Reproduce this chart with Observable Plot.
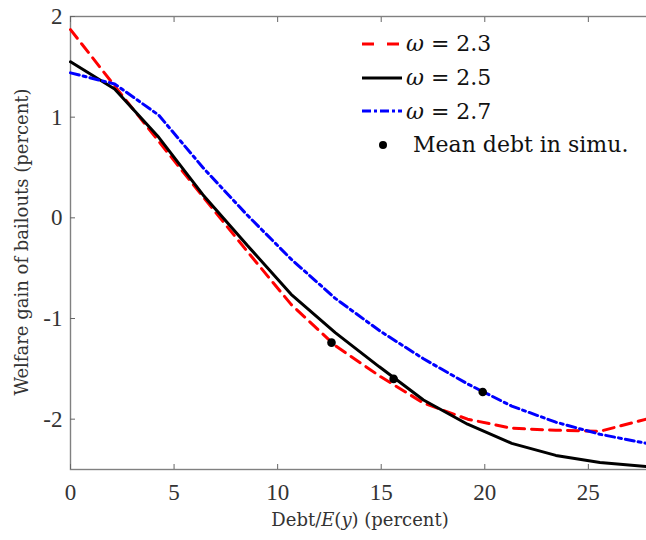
<!DOCTYPE html>
<html>
<head>
<meta charset="utf-8">
<script src="https://cdn.jsdelivr.net/npm/d3@7"></script>
<script src="https://cdn.jsdelivr.net/npm/@observablehq/plot@0.6"></script>
<style>
  html, body { margin: 0; padding: 0; background: #fff; }
  #wrap { position: relative; width: 646px; height: 540px; overflow: hidden; font-family: "DejaVu Serif", "Liberation Serif", serif; color: #222; }
  #chart svg { display: block; }
  .legend { position: absolute; left: 361px; top: 27px; font-size: 22px; color: #111; }
  .legend .row { display: flex; align-items: center; height: 33.7px; }
  .legend svg { display: block; margin-right: 4px; }
  .xlab { position: absolute; left: 0; width: 720px; text-align: center; top: 509px; font-size: 18px; color: #333; }
  .ylab { position: absolute; left: 21px; top: 242px; transform: translate(-50%, -50%) rotate(-90deg); white-space: nowrap; font-size: 18px; color: #333; }
</style>
</head>
<body>
<div id="wrap">
  <div id="chart"></div>
  <div class="legend" id="legend"></div>
  <div class="xlab">Debt/<i>E</i>(<i>y</i>) (percent)</div>
  <div class="ylab">Welfare gain of bailouts (percent)</div>
</div>
<script>
// Debt grid (percent of E(y))
const debt = [0, 2.13, 4.26, 6.39, 8.52, 10.65, 12.78, 14.91, 17.04, 19.17, 21.3, 23.43, 25.56, 27.8];
// Welfare gain of bailouts for each omega
const gain23 = [1.87, 1.31, 0.76, 0.21, -0.33, -0.86, -1.27, -1.57, -1.84, -2.00, -2.09, -2.11, -2.12, -2.00];
const gain25 = [1.55, 1.28, 0.80, 0.23, -0.27, -0.76, -1.14, -1.48, -1.81, -2.05, -2.24, -2.36, -2.43, -2.47];
const gain27 = [1.44, 1.33, 1.02, 0.50, 0.03, -0.41, -0.80, -1.12, -1.40, -1.65, -1.87, -2.03, -2.15, -2.24];
// Mean debt in simulations
const meanDebt = [12.6, 15.6, 19.9];
const meanGain = [-1.24, -1.60, -1.73];
const omegas = ["2.3", "2.5", "2.7"];
const xTicks = [0, 5, 10, 15, 20, 25];
const yTicks = [-2, -1, 0, 1, 2];

const seriesStyle = {
  "2.3": {stroke: "#ff0000", dash: "11,7"},
  "2.5": {stroke: "#000000", dash: null},
  "2.7": {stroke: "#0000ff", dash: "9,4,3,4"}
};
const gains = {"2.3": gain23, "2.5": gain25, "2.7": gain27};
const lines = omegas.map(o => debt.map((d, i) => ({debt: d, gain: gains[o][i]})));
const dots = meanDebt.map((d, i) => ({debt: d, gain: meanGain[i]}));

const font = "Liberation Serif, DejaVu Serif, serif";
const tickStroke = "#666";
const plot = Plot.plot({
  width: 646,
  height: 540,
  marginLeft: 70,
  marginRight: -4,
  marginTop: 16,
  marginBottom: 71,
  style: {fontFamily: font, background: "#fff", overflow: "hidden"},
  x: {domain: [0, 28]},
  y: {domain: [-2.5, 2]},
  marks: [
    Plot.frame({stroke: "#808080", strokeWidth: 1.4}),
    Plot.axisX(xTicks, {anchor: "bottom", tickSize: 0, tickPadding: 14, fontSize: 23, fill: "#333", label: null, tickFormat: d => String(d)}),
    Plot.axisY(yTicks, {anchor: "left", tickSize: 0, tickPadding: 8, fontSize: 23, fill: "#333", label: null, tickFormat: d => String(d)}),
    // inward ticks on all four sides
    Plot.axisX(xTicks, {anchor: "bottom", tickSize: 5, dy: -5, text: null, stroke: tickStroke, label: null}),
    Plot.axisX(xTicks, {anchor: "top", tickSize: 5, dy: 5, text: null, stroke: tickStroke, label: null}),
    Plot.axisY(yTicks, {anchor: "left", tickSize: 5, dx: 5, text: null, stroke: tickStroke, label: null}),
    Plot.axisY(yTicks, {anchor: "right", tickSize: 5, dx: -5, text: null, stroke: tickStroke, label: null}),
    ...omegas.map((o, k) => Plot.line(lines[k], {
      x: "debt", y: "gain",
      stroke: seriesStyle[o].stroke,
      strokeWidth: 3,
      strokeDasharray: seriesStyle[o].dash,
      strokeLinejoin: "miter"
    })),
    Plot.dot(dots, {x: "debt", y: "gain", r: 4.3, fill: "#000", stroke: "none"})
  ]
});
document.getElementById("chart").appendChild(plot);

// Legend
const legend = document.getElementById("legend");
omegas.forEach(o => {
  const s = seriesStyle[o];
  const row = document.createElement("div");
  row.className = "row";
  row.innerHTML = `<svg width="41" height="10"><line x1="1" y1="5" x2="41" y2="5" stroke="${s.stroke}" stroke-width="3" ${s.dash ? `stroke-dasharray="${o === "2.3" ? "12,13" : "9,3,3,3"}"` : ""}/></svg><span><i>ω</i> = ${o}</span>`;
  legend.appendChild(row);
});
const drow = document.createElement("div");
drow.className = "row";
drow.innerHTML = `<svg width="41" height="10"><circle cx="22" cy="5" r="4" fill="#000"/></svg><span>&nbsp;Mean debt in simu.</span>`;
legend.appendChild(drow);
</script>
</body>
</html>
